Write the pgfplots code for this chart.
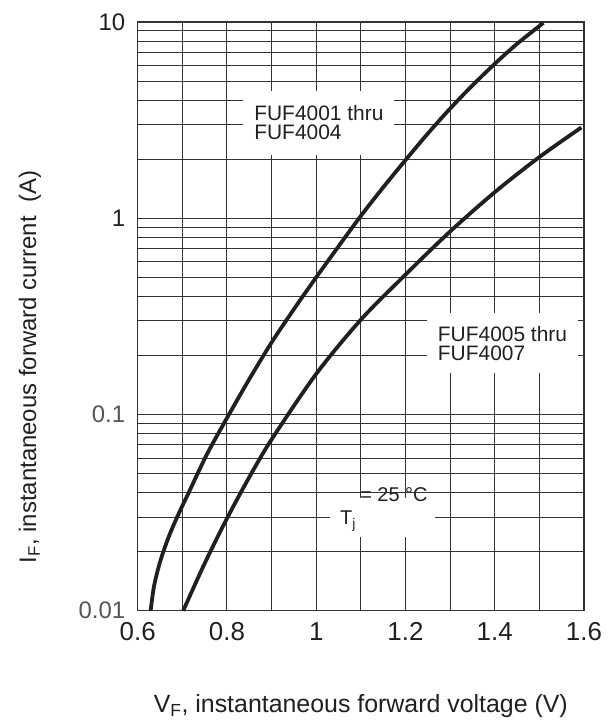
\documentclass[border=0pt]{standalone}
\usepackage{fontspec}
\setmainfont{Liberation Sans}
\usepackage{pgfplots}
\pgfplotsset{compat=1.18}
\definecolor{cInk}{HTML}{231F20}
\definecolor{cGrid}{HTML}{333333}
\definecolor{cTick}{HTML}{555555}

\begin{document}
\begin{tikzpicture}
\begin{axis}[
  width=446.3bp, height=588.7bp, scale only axis,
  xmin=0.6, xmax=1.6, ymin=0.01, ymax=10, ymode=log, log basis y=10,
  xtick={0.6,0.8,1.0,1.2,1.4,1.6}, xticklabels={0.6,0.8,1,1.2,1.4,1.6},
  minor xtick={0.7,0.9,1.1,1.3,1.5},
  ytick={0.01,0.1,1,10},
  yticklabels={\textcolor{cTick}{0.01},\textcolor{cTick}{0.1},1,10},
  minor ytick={0.02,0.03,0.04,0.05,0.06,0.07,0.08,0.09,
               0.2,0.3,0.4,0.5,0.6,0.7,0.8,0.9,
               2,3,4,5,6,7,8,9},
  xmajorgrids, xminorgrids, ymajorgrids, yminorgrids,
  grid style={cGrid, line width=1bp},
  minor grid style={cGrid, line width=1bp},
  major tick length=0pt, minor tick length=0pt,
  axis line style={cGrid, line width=1.4bp},
  xticklabel style={font=\fontsize{26}{28}\selectfont, text=cInk, yshift=-8bp},
  yticklabel style={font=\fontsize{24}{26}\selectfont, text=cInk, xshift=-9bp},
  xlabel={V\textsubscript{F}, instantaneous forward voltage (V)},
  ylabel={I\textsubscript{F}, instantaneous forward current~~(A)},
  every axis x label/.style={at={(rel axis cs:0.5,-0.162)}, anchor=center,
    font=\fontsize{25}{27}\selectfont, text=cInk},
  every axis y label/.style={at={(rel axis cs:-0.2413,0.414)}, anchor=center, rotate=90,
    font=\fontsize{24}{27}\selectfont, text=cInk},
  clip=false,
]
% label boxes that mask the grid
\node[fill=white, inner xsep=11bp, inner ysep=15bp, align=left,
      font=\fontsize{21}{19}\selectfont, text=cInk] at (axis cs:1.006,3.06)
      {FUF4001 thru\\FUF4004};
\node[fill=white, inner xsep=11bp, inner ysep=13bp, align=left,
      font=\fontsize{21}{19}\selectfont, text=cInk] at (axis cs:1.4174,0.2304)
      {FUF4005 thru\\FUF4007};
\fill[white] (axis cs:1.0309,0.02375) rectangle (axis cs:1.2662,0.03753);
\node[anchor=base west, inner sep=0pt, font=\fontsize{20}{22}\selectfont, text=cInk]
  at (axis cs:1.0534,0.02734) {T\textsubscript{j}};
\node[anchor=base west, inner sep=0pt, font=\fontsize{20}{22}\selectfont, text=cInk]
  at (axis cs:1.0984,0.03581) {= 25 °C};

% FUF4001 thru FUF4004
\addplot[cInk, line width=3.8bp, smooth] coordinates {
  (0.629,0.01) (0.6367,0.01337) (0.6503,0.01778) (0.6685,0.02346) (0.6904,0.03073)
  (0.7145,0.04004) (0.737,0.0515) (0.76,0.0658) (0.8,0.0959) (0.85,0.1513)
  (0.9,0.2327) (0.95,0.344) (1.0,0.5) (1.05,0.719) (1.1,1.028) (1.15,1.436)
  (1.2,1.979) (1.25,2.70) (1.3,3.62) (1.35,4.75) (1.4,6.12) (1.45,7.74)
  (1.509,9.9)};
% FUF4005 thru FUF4007
\addplot[cInk, line width=3.8bp, smooth] coordinates {
  (0.702,0.01) (0.75,0.0174) (0.8,0.0295) (0.85,0.0479) (0.9,0.0746)
  (1.0,0.161) (1.1,0.304) (1.2,0.516) (1.3,0.856) (1.4,1.357)
  (1.5,2.05) (1.594,2.90)};

% page extent
\path (rel axis cs:-0.3085,-0.19416) rectangle (rel axis cs:1.0695,1.03737);
\end{axis}
\end{tikzpicture}
\end{document}
